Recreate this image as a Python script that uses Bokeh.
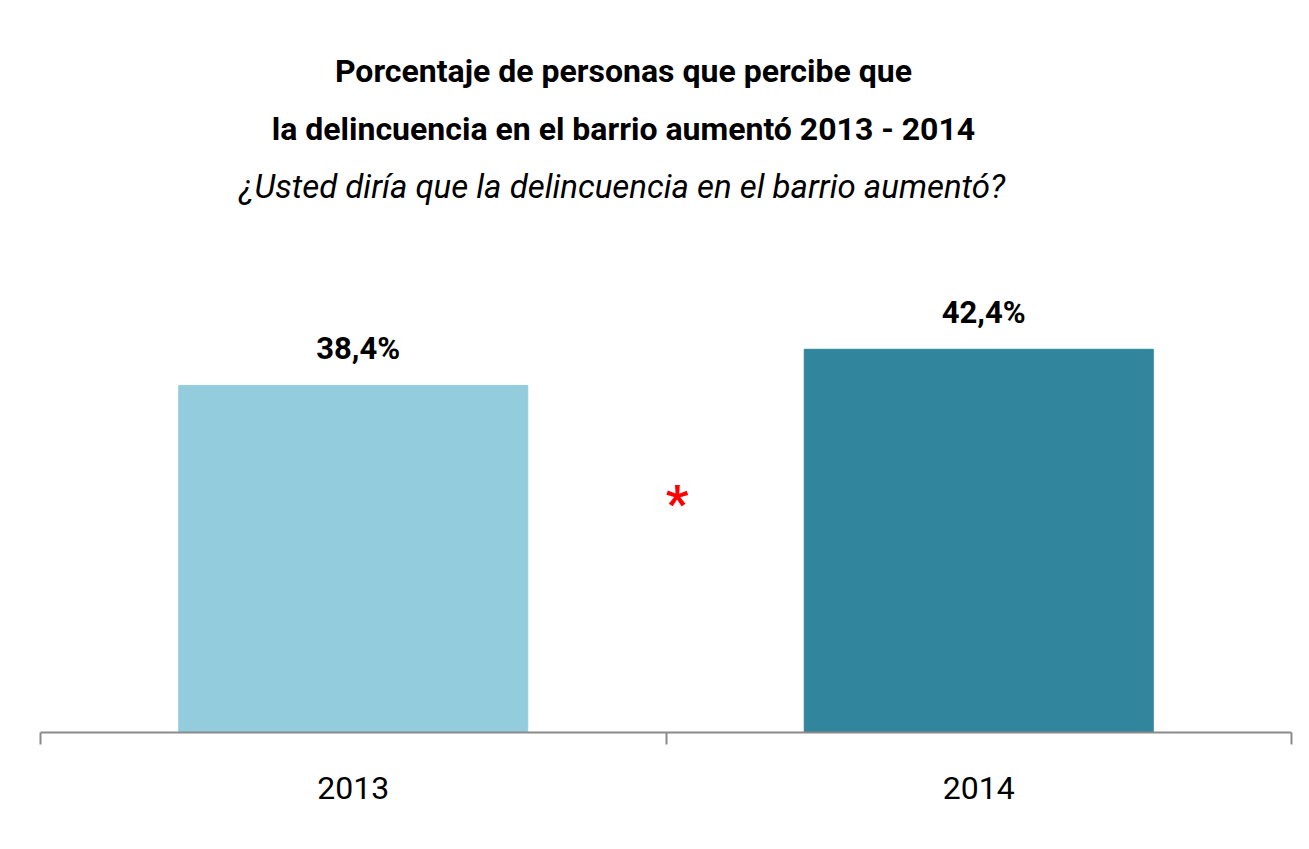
from bokeh.plotting import figure
from bokeh.models import (ColumnDataSource, Range1d, LinearAxis, FixedTicker)
from bokeh.core.properties import value
from bokeh.embed import file_html
from bokeh.resources import INLINE

# ---- data ----
years = ["2013", "2014"]
percent = [38.4, 42.4]
labels = ["38,4%", "42,4%"]
bar_colors = ["#93CDDD", "#31859C"]
title_lines = ["Porcentaje de personas que percibe que",
               "la delincuencia en el barrio aumentó 2013 - 2014"]
subtitle = "¿Usted diría que la delincuencia en el barrio aumentó?"

FONT = "Roboto"

# category slots: category i occupies [i, i+1] on the x axis
xpos = [i + 0.5 for i in range(len(years))]
edges = list(range(len(years) + 1))

p = figure(width=1301, height=841,
           x_range=Range1d(0, len(years)), y_range=Range1d(0, 80),
           x_axis_location=None, y_axis_location=None,
           output_backend="svg", toolbar_location=None,
           min_border_left=40, min_border_right=10,
           min_border_top=9, min_border_bottom=109)
p.outline_line_color = None
p.grid.visible = False
p.background_fill_color = "white"
p.border_fill_color = "white"

src = ColumnDataSource(dict(x=xpos, y=percent, lab=labels, color=bar_colors))
p.vbar(x="x", top="y", width=0.558, color="color", source=src)

p.text(x="x", y="y", text="lab", source=src, text_align="center",
       text_baseline="alphabetic", y_offset=-37, x_offset=5,
       text_font=value(FONT), text_font_style="bold",
       text_font_size="31px", text_color="black")

# titles
p.text(x=[0.932, 0.932], y=[73.2, 66.8], text=title_lines,
       text_align="center", text_baseline="alphabetic",
       text_font=value(FONT), text_font_style="bold",
       text_font_size="32px", text_color="black")
p.text(x=[0.93], y=[60.4], text=[subtitle],
       text_align="center", text_baseline="alphabetic",
       text_font=value(FONT), text_font_style="italic",
       text_font_size="33px", text_color="black")

# significance asterisk
p.text(x=[1.0176], y=[25.3], text=["*"], text_align="center",
       text_baseline="alphabetic", text_font=value(FONT),
       text_font_style="bold", text_font_size="50px", text_color="#FF0000")

# axis line with ticks at category boundaries
tick_axis = LinearAxis(ticker=FixedTicker(ticks=edges, minor_ticks=[]),
                       axis_line_color="#8A8A8A", axis_line_width=2,
                       major_tick_line_color="#8A8A8A", major_tick_line_width=2,
                       major_tick_out=12, major_tick_in=0,
                       minor_tick_line_color=None,
                       major_label_text_font_size="1px",
                       major_label_text_color=None, major_label_standoff=0)
tick_axis.major_label_overrides = {e: "" for e in edges}
p.add_layout(tick_axis, "below")

# category labels centred in each slot
cat_axis = LinearAxis(ticker=FixedTicker(ticks=xpos, minor_ticks=[]),
                      axis_line_color=None, major_tick_line_color=None,
                      minor_tick_line_color=None,
                      major_tick_out=0, major_tick_in=0,
                      major_label_standoff=32,
                      major_label_text_font=FONT,
                      major_label_text_font_size="32px",
                      major_label_text_color="black")
cat_axis.major_label_overrides = {x: y for x, y in zip(xpos, years)}
p.add_layout(cat_axis, "below")

open("out.html", "w").write(file_html(p, INLINE))
